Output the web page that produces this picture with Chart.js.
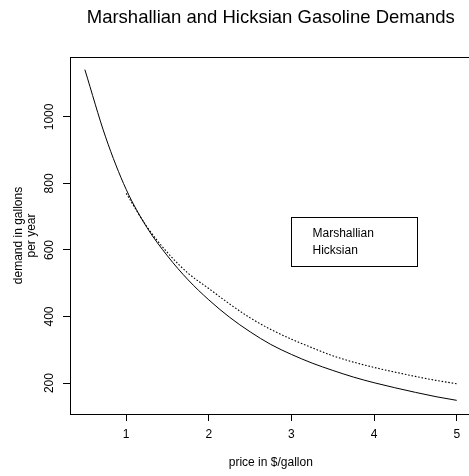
<!DOCTYPE html>
<html>
<head>
<meta charset="utf-8">
<script src="https://cdn.jsdelivr.net/npm/chart.js@4/dist/chart.umd.min.js"></script>
<style>
  html, body { margin: 0; padding: 0; background: #fff; overflow: hidden; }
  #wrap { width: 469px; height: 476px; overflow: hidden; position: relative; }
  #chart { position: absolute; left: 0; top: 0; }
</style>
</head>
<body>
<div id="wrap"><canvas id="chart" width="476" height="476"></canvas></div>
<script>
// price in $/gallon
const prices = [0.5, 0.75, 1, 1.25, 1.5, 1.75, 2, 2.25, 2.5, 2.75, 3, 3.25, 3.5, 3.75, 4, 4.25, 4.5, 4.75, 5];
const marshallian = [1142, 940, 782, 668, 582, 510, 450, 398, 354, 316, 286, 260, 238, 218, 201, 186, 172, 159, 148];

const hicksPrices = [1, 1.25, 1.5, 1.75, 2, 2.25, 2.5, 2.75, 3, 3.25, 3.5, 3.75, 4, 4.25, 4.5, 4.75, 5];
const hicksian = [770, 670, 592, 530, 484, 438, 396, 361, 332, 306, 282, 263, 247, 233, 220, 208, 198];

const xTicks = [1, 2, 3, 4, 5];
const yTicks = [200, 400, 600, 800, 1000];
const seriesNames = ['Marshallian', 'Hicksian'];

const FONT = 'Liberation Sans, Arial, Helvetica, sans-serif';
Chart.defaults.font.family = FONT;
Chart.defaults.color = '#000';

// frame, y tick labels (rotated) and legend box, R style
const rStyle = {
  id: 'rStyle',
  afterDraw(chart) {
    const { ctx, chartArea: a, scales } = chart;
    ctx.save();
    ctx.strokeStyle = '#000';
    ctx.lineWidth = 1;
    ctx.strokeRect(Math.round(a.left) + 0.5, Math.round(a.top) + 0.5,
      Math.round(a.right - a.left), Math.round(a.bottom - a.top));

    // y tick labels, vertical like R's las=0
    ctx.fillStyle = '#000';
    ctx.font = '12px ' + FONT;
    ctx.textAlign = 'center';
    ctx.textBaseline = 'alphabetic';
    yTicks.forEach(v => {
      const py = scales.y.getPixelForValue(v);
      ctx.save();
      ctx.translate(52.5, py);
      ctx.rotate(-Math.PI / 2);
      ctx.fillText(String(v), 0, 0);
      ctx.restore();
    });

    // legend (text only)
    const lx = Math.round(scales.x.getPixelForValue(3)) + 0.5;
    const ly = Math.round(scales.y.getPixelForValue(700)) + 0.5;
    ctx.strokeRect(lx, ly, 126, 49);
    ctx.textAlign = 'left';
    seriesNames.forEach((name, i) => {
      ctx.fillText(name, lx + 21, ly + 19.8 + i * 16.5);
    });
    ctx.restore();
  }
};

const ctx = document.getElementById('chart').getContext('2d');
new Chart(ctx, {
  type: 'scatter',
  data: {
    datasets: [
      {
        label: seriesNames[0],
        data: prices.map((p, i) => ({ x: p, y: marshallian[i] })),
        showLine: true,
        borderColor: '#000',
        borderWidth: 1,
        pointRadius: 0,
        cubicInterpolationMode: 'monotone'
      },
      {
        label: seriesNames[1],
        data: hicksPrices.map((p, i) => ({ x: p, y: hicksian[i] })),
        showLine: true,
        borderColor: '#000',
        borderWidth: 1.1,
        borderDash: [1.6, 1.8],
        pointRadius: 0,
        cubicInterpolationMode: 'monotone'
      }
    ]
  },
  options: {
    responsive: false,
    animation: false,
    devicePixelRatio: 1,
    layout: { padding: { left: 0, right: 4.4, top: 0, bottom: 0 } },
    plugins: {
      legend: { display: false },
      tooltip: { enabled: false },
      title: {
        display: true,
        fullSize: false,
        text: 'Marshallian and Hicksian Gasoline Demands',
        color: '#000',
        font: { size: 18.5, weight: 'normal', lineHeight: 1.2 },
        padding: { top: 6.5, bottom: 28.3 }
      }
    },
    scales: {
      x: {
        type: 'linear',
        min: 0.32,
        max: 5.18,
        afterBuildTicks: s => { s.ticks = xTicks.map(v => ({ value: v })); },
        afterFit: s => { s.height = 62; },
        border: { display: false },
        grid: { drawOnChartArea: false, drawTicks: true, tickLength: 7, color: '#000' },
        ticks: { font: { size: 12 }, color: '#000', padding: 6.5, maxRotation: 0 },
        title: {
          display: true,
          text: 'price in $/gallon',
          font: { size: 12 },
          color: '#000',
          padding: { top: 0, bottom: 6.6 }
        }
      },
      y: {
        type: 'linear',
        min: 107,
        max: 1180,
        afterBuildTicks: s => { s.ticks = yTicks.map(v => ({ value: v })); },
        afterFit: s => { s.width = 70; },
        border: { display: false },
        grid: { drawOnChartArea: false, drawTicks: true, tickLength: 7, color: '#000' },
        ticks: { display: false },
        title: {
          display: true,
          text: ['demand in gallons', 'per year'],
          font: { size: 12, lineHeight: 1.05 },
          color: '#000',
          padding: { top: 12.5, bottom: 0 }
        }
      }
    }
  },
  plugins: [rStyle]
});
</script>
</body>
</html>
